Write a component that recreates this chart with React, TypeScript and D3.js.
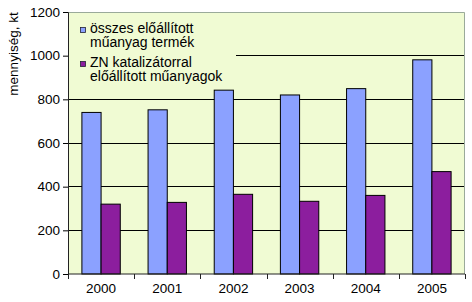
import { useEffect, useRef } from 'react';
import * as d3 from 'd3';

const years = ['2000', '2001', '2002', '2003', '2004', '2005'];
const totalPlastic = [740, 752, 842, 820, 849, 981];
const znPlastic = [320, 328, 365, 333, 360, 469];
const yTicks = [0, 200, 400, 600, 800, 1000, 1200];
const seriesNames = [
  ['összes előállított', 'műanyag termék'],
  ['ZN katalizátorral', 'előállított műanyagok'],
];
const seriesColors = ['#8BA1FF', '#8C1E9E'];

const W = 472;
const H = 302;
const margin = { top: 12, right: 7, bottom: 28, left: 68 };
const FONT = '"Liberation Sans", Arial, sans-serif';

export default function App() {
  const gRef = useRef<SVGGElement>(null);

  useEffect(() => {
    const g = d3.select(gRef.current);
    g.selectAll('*').remove();

    const iw = W - margin.left - margin.right;
    const ih = H - margin.top - margin.bottom;

    const x = d3.scaleBand().domain(years).range([0, iw]).paddingInner(0.42).paddingOuter(0.21);
    const xs = d3.scaleBand().domain(['a', 'b']).range([0, x.bandwidth()]);
    const y = d3.scaleLinear().domain([0, 1200]).range([ih, 0]);

    const plot = g.append('g').attr('transform', `translate(${margin.left},${margin.top})`);

    plot.append('rect').attr('width', iw).attr('height', ih).attr('fill', '#F0FBD3');

    // gridlines
    plot.selectAll('line.grid')
      .data(yTicks.filter(t => t > 0 && t < 1200))
      .join('line')
      .attr('x1', 0).attr('x2', iw)
      .attr('y1', d => y(d)).attr('y2', d => y(d))
      .attr('stroke', '#000').attr('stroke-width', 1).attr('shape-rendering', 'crispEdges');

    // border top/right
    plot.append('path')
      .attr('d', `M0,0.5H${iw - 0.5}V${ih}`)
      .attr('fill', 'none').attr('stroke', '#9AAA9A').attr('stroke-width', 1);

    // legend box (covers gridlines, drawn under bars)
    const leg = plot.append('g');
    leg.append('rect').attr('x', 1).attr('y', 1).attr('width', 167).attr('height', 74).attr('fill', '#F0FBD3');

    // bars
    const groups = plot.selectAll('g.yr')
      .data(years)
      .join('g')
      .attr('transform', d => `translate(${x(d)},0)`);

    groups.append('rect')
      .attr('x', xs('a')!)
      .attr('y', (_, i) => y(totalPlastic[i]))
      .attr('width', xs.bandwidth())
      .attr('height', (_, i) => ih - y(totalPlastic[i]))
      .attr('fill', seriesColors[0]).attr('stroke', '#000').attr('stroke-width', 1);

    groups.append('rect')
      .attr('x', xs('b')!)
      .attr('y', (_, i) => y(znPlastic[i]))
      .attr('width', xs.bandwidth())
      .attr('height', (_, i) => ih - y(znPlastic[i]))
      .attr('fill', seriesColors[1]).attr('stroke', '#000').attr('stroke-width', 1);

    seriesNames.forEach((lines, i) => {
      const base = 20.5 + i * 34;
      leg.append('rect')
        .attr('x', 12.5).attr('y', base - 5).attr('width', 5).attr('height', 5)
        .attr('fill', seriesColors[i]).attr('stroke', '#223').attr('stroke-width', 0.8);
      lines.forEach((t, j) => {
        leg.append('text')
          .attr('x', 22).attr('y', base + j * 14.5)
          .attr('font-size', 14).attr('font-family', FONT).attr('fill', '#000')
          .text(t);
      });
    });

    // y axis
    const ya = plot.append('g')
      .call(d3.axisLeft(y).tickValues(yTicks).tickSize(5).tickPadding(3).tickFormat(d3.format('d')));
    ya.select('.domain').attr('stroke', '#222');
    ya.selectAll('text').attr('font-size', 13.5).attr('font-family', FONT).attr('fill', '#000');

    // x axis
    const xa = plot.append('g').attr('transform', `translate(0,${ih})`);
    xa.append('line').attr('x1', 0).attr('x2', iw).attr('stroke', '#222');
    const step = x.step();
    xa.selectAll('line.tk')
      .data(d3.range(years.length + 1))
      .join('line')
      .attr('x1', d => Math.round(d * step) + 0.5).attr('x2', d => Math.round(d * step) + 0.5)
      .attr('y1', 0).attr('y2', 5).attr('stroke', '#222');
    xa.selectAll('text')
      .data(years)
      .join('text')
      .attr('x', d => x(d)! + x.bandwidth() / 2)
      .attr('y', 19)
      .attr('text-anchor', 'middle')
      .attr('font-size', 13.5).attr('font-family', FONT).attr('fill', '#000')
      .text(d => d);

    // y label
    g.append('text')
      .attr('transform', `translate(18,54) rotate(-90)`)
      .attr('text-anchor', 'middle')
      .attr('font-size', 13.5).attr('font-family', FONT).attr('fill', '#000')
      .text('mennyiség, kt');
  }, []);

  return (
    <svg width={W} height={H} style={{ position: 'absolute', left: 0, top: 0, background: '#fff' }}>
      <g ref={gRef} />
    </svg>
  );
}
